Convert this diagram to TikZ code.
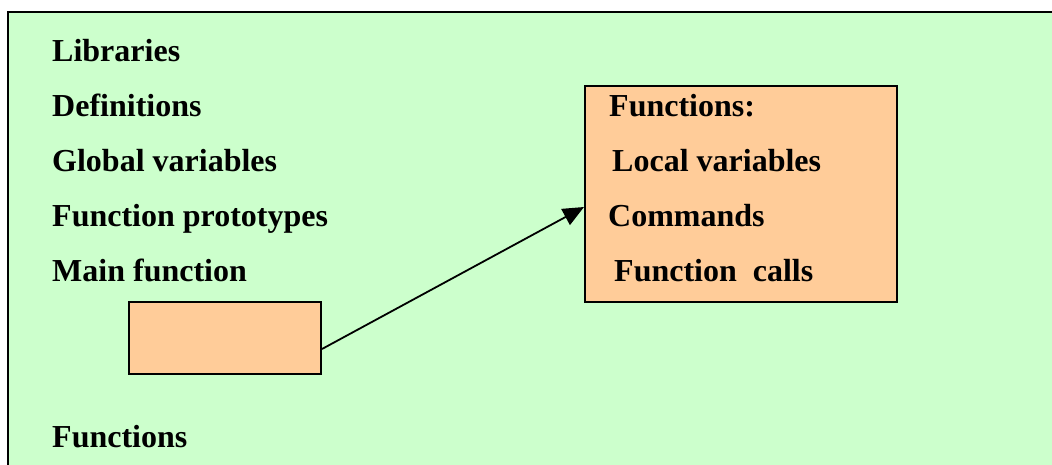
\documentclass[tikz,border=0pt]{standalone}
\usepackage{fontspec}
\setmainfont{Liberation Serif}
\usetikzlibrary{arrows.meta}
\definecolor{panelgreen}{HTML}{CCFFCC}
\definecolor{boxorange}{HTML}{FFCC99}
\tikzset{
  lbl/.style={anchor=base west,inner sep=0pt,font=\fontsize{32}{34}\selectfont\bfseries},
  codebox/.style={draw=black,line width=2pt,fill=boxorange,inner sep=0pt,anchor=north west},
}
\begin{document}
\begin{tikzpicture}[x=1pt,y=-1pt]
  \useasboundingbox (0,0) rectangle (1052,464);
  % panel
  \fill[panelgreen] (8,12) rectangle (1060,470);
  \draw[line width=2.5pt] (8,470) -- (8,12) -- (1060,12);
  % program parts
  \node[lbl] (libs)   at (52,61)  {Libraries};
  \node[lbl] (defs)   at (52,116) {Definitions};
  \node[lbl] (glob)   at (52,171) {Global variables};
  \node[lbl] (protos) at (52,226) {Function prototypes};
  \node[lbl] (mainfn) at (52,281) {Main function};
  \node[lbl] (funcs)  at (52,447) {Functions};
  % boxes
  \node[codebox,minimum width=192pt,minimum height=72pt] (mainbox) at (128,301) {};
  \node[codebox,minimum width=312pt,minimum height=216pt] (funcbox) at (584,85) {};
  \node[lbl] (fhead)  at (609,116) {Functions:};
  \node[lbl] (locals) at (612,171) {Local variables};
  \node[lbl] (cmds)   at (608,226) {Commands};
  \node[lbl] (calls)  at (614,281) {Function\ \ calls};
  % call arrow
  \draw[line width=1.8pt,-{Triangle[length=21pt,width=18pt]}]
    ([yshift=-11pt]mainbox.east) -- ([yshift=-13pt]funcbox.west);
\end{tikzpicture}
\end{document}
